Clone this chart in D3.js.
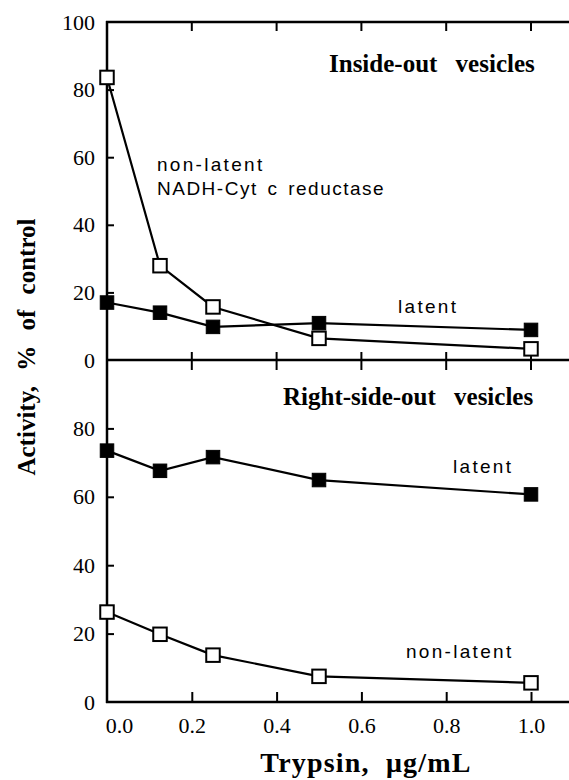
<!DOCTYPE html>
<html>
<head>
<meta charset="utf-8">
<script src="https://cdn.jsdelivr.net/npm/d3@7"></script>
<style>
  html, body { margin: 0; padding: 0; background: #fff; }
  svg { display: block; }
</style>
</head>
<body>
<div id="chart"></div>
<script>
// ---- data ----
const trypsin = [0, 0.125, 0.25, 0.5, 1.0];
const insideNonLatent = [83.6, 27.9, 15.7, 6.4, 3.3];
const insideLatent = [17.0, 14.0, 9.8, 10.9, 8.9];
const rightLatent = [73.5, 67.6, 71.6, 64.9, 60.7];
const rightNonLatent = [26.3, 19.8, 13.7, 7.5, 5.6];
const xTicks = [0.0, 0.2, 0.4, 0.6, 0.8, 1.0];
const yTicksTop = [0, 20, 40, 60, 80, 100];
const yTicksBottom = [0, 20, 40, 60, 80];

const W = 569, H = 780;
const svg = d3.select("#chart").append("svg").attr("width", W).attr("height", H);

const x = d3.scaleLinear().domain([0, 1]).range([107, 531]);
const xMax = 1.09;
const yTop = d3.scaleLinear().domain([0, 100]).range([360, 22]);
const yBot = d3.scaleLinear().domain([0, 100]).range([702, 360]);

const serif = "'Liberation Serif', 'Times New Roman', serif";
const sans = "'Liberation Sans', Arial, Helvetica, sans-serif";
const axisW = 2.5;

// y axes (ticks inward)
function yAxis(scale, ticks) {
  const g = svg.append("g").attr("transform", `translate(${x(0)},0)`)
    .call(d3.axisLeft(scale).tickValues(ticks).tickFormat(d3.format("d"))
      .tickSizeInner(-7).tickSizeOuter(0).tickPadding(12));
  g.select(".domain").remove();
  g.selectAll(".tick line").attr("stroke", "#000").attr("stroke-width", 2);
  g.selectAll(".tick text").attr("font-family", serif).attr("font-size", 22).attr("fill", "#000");
  return g;
}
const gyt = yAxis(yTop, yTicksTop);
gyt.selectAll(".tick").filter(d => d === 0 || d === 100).select("line").remove();
const gyb = yAxis(yBot, yTicksBottom);
gyb.selectAll(".tick").filter(d => d === 0).select("line").remove();

// x axes: ticks at top frame (down), middle (up+down), bottom (up, with labels)
const xInner = xTicks.filter(d => d > 0);
function xTickRow(yPos, up, down) {
  svg.append("g").selectAll("line").data(xInner).join("line")
    .attr("x1", d => x(d)).attr("x2", d => x(d))
    .attr("y1", yPos - up).attr("y2", yPos + down)
    .attr("stroke", "#000").attr("stroke-width", 2);
}
xTickRow(yTop(100), 0, 9);
xTickRow(yTop(0), 8, 10);

const gx = svg.append("g").attr("transform", `translate(0,${yBot(0)})`)
  .call(d3.axisBottom(x).tickValues(xTicks).tickFormat(d3.format(".1f"))
    .tickSizeInner(-10).tickSizeOuter(0).tickPadding(15));
gx.select(".domain").remove();
gx.selectAll(".tick line").attr("stroke", "#000").attr("stroke-width", 2);
gx.selectAll(".tick").filter(d => d === 0).select("line").remove();
gx.selectAll(".tick text").attr("font-family", serif).attr("font-size", 22).attr("fill", "#000");
gx.selectAll(".tick").filter(d => d === 0).select("text").attr("dx", 12);

// frame lines
const frame = svg.append("g").attr("stroke", "#000").attr("stroke-width", axisW).attr("fill", "none");
frame.append("line").attr("x1", x(0)).attr("x2", x(0)).attr("y1", yTop(100) - 1).attr("y2", yBot(0) + 1);
[yTop(100), yTop(0), yBot(0)].forEach(yy => {
  frame.append("line").attr("x1", x(0) - 1).attr("x2", x(xMax)).attr("y1", yy).attr("y2", yy);
});

// series
const line = (ys) => d3.line().x((d, i) => x(trypsin[i])).y(d => ys(d));
function series(vals, ys) {
  svg.append("path").datum(vals).attr("d", line(ys))
    .attr("fill", "none").attr("stroke", "#000").attr("stroke-width", 2.2);
}
function markers(vals, ys, filled) {
  const s = 13.5;
  svg.append("g").selectAll("rect").data(vals).join("rect")
    .attr("x", (d, i) => x(trypsin[i]) - s / 2).attr("y", d => ys(d) - s / 2)
    .attr("width", s).attr("height", s)
    .attr("fill", filled ? "#000" : "#fff")
    .attr("stroke", "#000").attr("stroke-width", filled ? 1 : 2);
}
series(insideNonLatent, yTop); series(insideLatent, yTop);
series(rightLatent, yBot); series(rightNonLatent, yBot);
markers(insideLatent, yTop, true); markers(insideNonLatent, yTop, false);
markers(rightLatent, yBot, true); markers(rightNonLatent, yBot, false);

// titles
function label(txt, px, py, opts) {
  return svg.append("text").attr("x", px).attr("y", py)
    .attr("font-family", opts.font).attr("font-size", opts.size)
    .attr("font-weight", opts.bold ? "bold" : "normal")
    .attr("letter-spacing", opts.ls || 0).attr("word-spacing", opts.ws || 0)
    .attr("text-anchor", opts.anchor || "start")
    .attr("fill", "#000").text(txt);
}
label("Inside-out vesicles", 329, 72, {font: serif, size: 25, bold: true, ws: 12});
label("Right-side-out vesicles", 283, 405, {font: serif, size: 25, bold: true, ws: 12});
label("non-latent", 157, 171, {font: sans, size: 19, ls: 2.3});
label("NADH-Cyt c reductase", 157, 195, {font: sans, size: 19, ls: 1.5, ws: 3});
label("latent", 398, 313, {font: sans, size: 19, ls: 2.3});
label("latent", 453, 473, {font: sans, size: 19, ls: 2.3});
label("non-latent", 406, 658, {font: sans, size: 19, ls: 2.3});

label("Trypsin, μg/mL", 366, 772, {font: serif, size: 28, bold: true, anchor: "middle", ws: 8, ls: 1.2});
svg.append("text").attr("transform", "translate(35,347) rotate(-90)")
  .attr("font-family", serif).attr("font-size", 25).attr("font-weight", "bold")
  .attr("text-anchor", "middle").attr("word-spacing", 9).attr("fill", "#000")
  .text("Activity, % of control");
</script>
</body>
</html>
